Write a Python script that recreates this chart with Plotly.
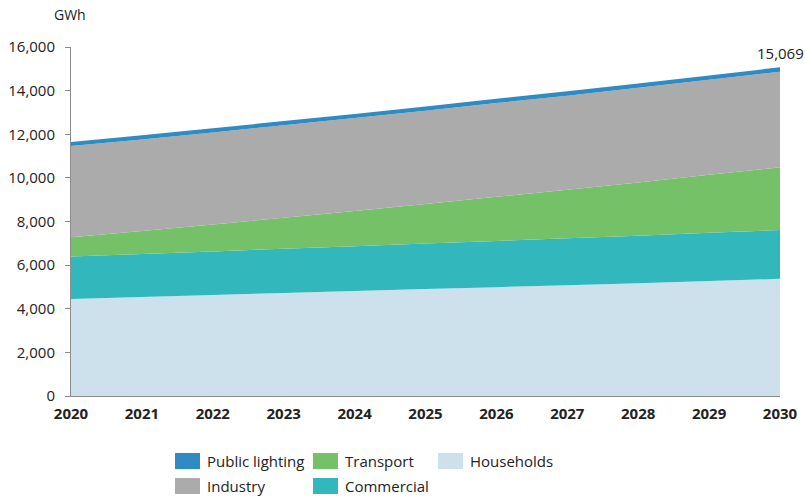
import plotly.graph_objects as go

years = [2020, 2021, 2022, 2023, 2024, 2025, 2026, 2027, 2028, 2029, 2030]
households = [4450, 4540, 4630, 4720, 4810, 4900, 4990, 5080, 5170, 5270, 5370]
commercial = [1940, 1970, 2000, 2030, 2060, 2090, 2120, 2150, 2180, 2210, 2240]
transport = [890, 1050, 1230, 1420, 1610, 1810, 2020, 2220, 2440, 2660, 2880]
industry = [4180, 4200, 4220, 4240, 4260, 4280, 4300, 4320, 4340, 4360, 4379]
public_lighting = [190, 191, 192, 193, 194, 195, 196, 197, 198, 199, 200]
total_label = "15,069"
y_ticks = [0, 2000, 4000, 6000, 8000, 10000, 12000, 14000, 16000]

series = [
    ("Households", households, "#CCE1EC"),
    ("Commercial", commercial, "#31B7BC"),
    ("Transport", transport, "#75C168"),
    ("Industry", industry, "#ABABAB"),
    ("Public lighting", public_lighting, "#2F8CC2"),
]
legend_rows = [["Public lighting", "Transport", "Households"], ["Industry", "Commercial"]]
colors = {n: c for n, _, c in series}

FONT = "Open Sans, Liberation Sans, sans-serif"
W, H = 805, 498
L, R, T, B = 71, 25, 47, 102

fig = go.Figure()
for name, vals, col in series:
    fig.add_trace(go.Scatter(
        x=years, y=vals, name=name, stackgroup="one", mode="none",
        fillcolor=col, line=dict(width=0), showlegend=False,
        hovertemplate="%{x}: %{y:,}<extra>" + name + "</extra>",
    ))

fig.update_layout(
    width=W, height=H,
    margin=dict(l=L, r=R, t=T, b=B, autoexpand=False),
    paper_bgcolor="white", plot_bgcolor="white",
    font=dict(family=FONT, size=15, color="#222"),
    xaxis=dict(range=[years[0], years[-1]], tickmode="array", tickvals=years,
               ticktext=[f"<b>{y}</b>" for y in years], showgrid=False,
               showline=True, linecolor="#8C8C8C", linewidth=1, ticks="",
               zeroline=False, automargin=False, ticklabelstandoff=4,
               tickfont=dict(size=15, color="#222")),
    yaxis=dict(range=[0, 16000], tickvals=y_ticks, tickformat=",", showgrid=False,
               showline=True, linecolor="#8C8C8C", linewidth=1, ticks="outside",
               ticklen=5, tickcolor="#8C8C8C", zeroline=False, automargin=False,
               ticklabelstandoff=7,
               tickfont=dict(size=15, color="#222")),
)

pw, ph = W - L - R, H - T - B
def px(x):
    return (x - L) / pw
def py(y):
    return (H - B - y) / ph

fig.add_annotation(text="GWh", x=px(70), y=py(15), xref="paper", yref="paper",
                   showarrow=False, xanchor="center", yanchor="middle",
                   font=dict(size=14, color="#222"))
fig.add_annotation(text=total_label, x=years[-1], y=households[-1] + commercial[-1] + transport[-1]
                   + industry[-1] + public_lighting[-1], xref="x", yref="y",
                   showarrow=False, xanchor="center", yanchor="bottom", yshift=2,
                   font=dict(size=15, color="#222"))

col_x = [175, 313, 438]
row_y = [461, 486]
for r, row in enumerate(legend_rows):
    for c, name in enumerate(row):
        x0 = col_x[c]
        yc = row_y[r]
        fig.add_shape(type="rect", xref="paper", yref="paper",
                      x0=px(x0), x1=px(x0 + 25), y0=py(yc + 8), y1=py(yc - 8),
                      fillcolor=colors[name], line=dict(width=0))
        fig.add_annotation(text=name, x=px(x0 + 30), y=py(yc), xref="paper", yref="paper",
                           showarrow=False, xanchor="left", yanchor="middle",
                           font=dict(size=15, color="#222"))

fig.write_html(
    "out.html",
    config={"displayModeBar": False},
    post_script="document.body.style.margin='0';document.body.style.overflow='hidden';",
)
